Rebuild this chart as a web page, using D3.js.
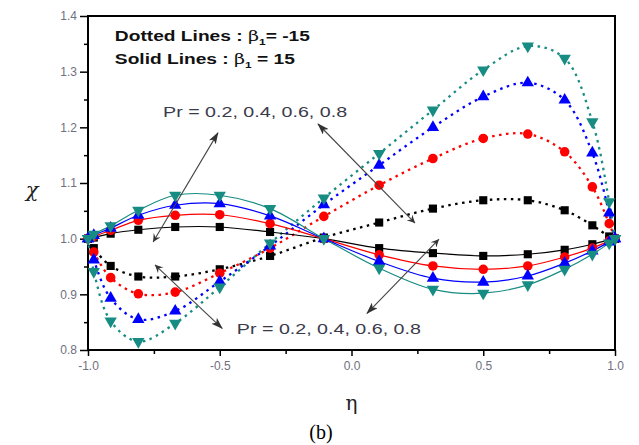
<!DOCTYPE html>
<html>
<head>
<meta charset="utf-8">
<script src="https://cdn.jsdelivr.net/npm/d3@7"></script>
<style>
  body { margin: 0; background: #fff; }
  svg { display: block; }
</style>
</head>
<body>
<svg id="chart"></svg>
<script>
// Chi profiles vs eta, dotted = beta1 -15, solid = beta1 15

const etaValues = [-1, -0.978, -0.914, -0.809, -0.669, -0.5, -0.309, -0.105,
  0.105, 0.309, 0.5, 0.669, 0.809, 0.914, 0.978, 1];

const prLabels = ["0.2", "0.4", "0.6", "0.8"];

const solidChi = [
  [1.000, 1.002, 1.009, 1.016, 1.021, 1.021, 1.012, 1.000, 0.983, 0.974, 0.969, 0.972, 0.980, 0.990, 0.998, 1.000],
  [1.000, 1.004, 1.015, 1.033, 1.042, 1.043, 1.027, 1.000, 0.971, 0.951, 0.945, 0.951, 0.967, 0.983, 0.996, 1.000],
  [1.000, 1.006, 1.019, 1.042, 1.060, 1.063, 1.041, 1.000, 0.959, 0.929, 0.922, 0.933, 0.956, 0.978, 0.994, 1.000],
  [1.000, 1.008, 1.023, 1.051, 1.078, 1.078, 1.054, 1.000, 0.947, 0.909, 0.902, 0.917, 0.945, 0.972, 0.992, 1.000]
];

const dottedChi = [
  [1.000, 0.983, 0.951, 0.932, 0.932, 0.945, 0.969, 1.002, 1.029, 1.054, 1.069, 1.069, 1.051, 1.024, 1.004, 1.000],
  [1.000, 0.976, 0.930, 0.901, 0.904, 0.938, 0.983, 1.040, 1.096, 1.144, 1.180, 1.188, 1.156, 1.093, 1.027, 1.000],
  [1.000, 0.962, 0.893, 0.855, 0.870, 0.923, 0.987, 1.061, 1.132, 1.200, 1.255, 1.280, 1.249, 1.154, 1.046, 1.000],
  [1.000, 0.941, 0.852, 0.815, 0.848, 0.913, 0.992, 1.073, 1.153, 1.231, 1.303, 1.346, 1.324, 1.210, 1.066, 1.000]
];

const xTicks = [-1.0, -0.5, 0.0, 0.5, 1.0];
const yTicks = [0.8, 0.9, 1.0, 1.1, 1.2, 1.3, 1.4];

// arrows in data units: [eta tail, chi tail, eta head, chi head]
const arrows = [
  [-0.753, 0.994, -0.507, 1.190],
  [0.241, 1.028, -0.127, 1.206],
  [-0.746, 0.953, -0.491, 0.839],
  [0.332, 0.999, 0.059, 0.866]
];

const colors = ["#000000", "#ff0000", "#0000ff", "#178c83"];
const shapes = [d3.symbolSquare, d3.symbolCircle, d3.symbolTriangle, d3.symbolTriangle];

const width = 639, height = 445;
const margins = {top: 16, bottom: 95, left: 88, right: 24};

const svg = d3.select('#chart')
  .attr("width", width)
  .attr("height", height);

svg.append("rect").attr("width", width).attr("height", height).attr("fill", "#fff");

const xScale = d3.scaleLinear().domain([-1, 1]).range([margins.left, width - margins.right]);
const yScale = d3.scaleLinear().domain([0.8, 1.4]).range([height - margins.bottom, margins.top]);

// minor ticks
svg.append('g')
  .attr("transform", `translate(0,${height - margins.bottom})`)
  .call(d3.axisBottom(xScale).tickValues([-0.75, -0.25, 0.25, 0.75]).tickFormat("").tickSize(4))
  .call(g => g.select(".domain").remove());
svg.append('g')
  .attr("transform", `translate(${margins.left},0)`)
  .call(d3.axisLeft(yScale).tickValues([0.85, 0.95, 1.05, 1.15, 1.25, 1.35]).tickFormat("").tickSize(4))
  .call(g => g.select(".domain").remove());

// major ticks
const fmt = d => d.toFixed(1);
svg.append('g')
  .attr("class", "xAxis")
  .attr("transform", `translate(0,${height - margins.bottom})`)
  .call(d3.axisBottom(xScale).tickValues(xTicks).tickFormat(fmt).tickSize(6).tickPadding(5));
svg.append('g')
  .attr("class", "yAxis")
  .attr("transform", `translate(${margins.left},0)`)
  .call(d3.axisLeft(yScale).tickValues(yTicks).tickFormat(fmt).tickSize(8).tickPadding(3));

svg.selectAll('.xAxis .domain, .yAxis .domain').remove();
svg.selectAll('.tick line').attr("stroke", "#000").attr("stroke-width", 1.5);
svg.selectAll('.xAxis text, .yAxis text')
  .attr("fill", "#70707e")
  .attr("font-family", "Liberation Sans, Arial, sans-serif")
  .attr("font-size", 12);

// frame
svg.append("rect")
  .attr("x", xScale(-1)).attr("y", yScale(1.4))
  .attr("width", xScale(1) - xScale(-1))
  .attr("height", yScale(0.8) - yScale(1.4))
  .attr("fill", "none").attr("stroke", "#000").attr("stroke-width", 2);

// lines
const line = d3.line()
  .x((d, i) => xScale(etaValues[i]))
  .y(d => yScale(d))
  .curve(d3.curveCatmullRom.alpha(0.5));

dottedChi.forEach((s, k) => {
  svg.append("path")
    .attr("d", line(s))
    .attr("fill", "none")
    .attr("stroke", colors[k])
    .attr("stroke-width", 2.3)
    .attr("stroke-dasharray", "2.5,4.5");
});
solidChi.forEach((s, k) => {
  svg.append("path")
    .attr("d", line(s))
    .attr("fill", "none")
    .attr("stroke", colors[k])
    .attr("stroke-width", 1.2);
});

// markers
function drawMarkers(series) {
  series.forEach((s, k) => {
    svg.append('g').selectAll("path")
      .data(s)
      .join("path")
      .attr("d", d3.symbol().type(shapes[k]).size(k === 1 ? 72 : 66))
      .attr("transform", (d, i) =>
        `translate(${xScale(etaValues[i])},${yScale(d)})` + (k === 3 ? " rotate(180)" : ""))
      .attr("fill", colors[k]);
  });
}
drawMarkers(dottedChi);
drawMarkers(solidChi);

// arrows
const defs = svg.append("defs");
defs.append("marker")
  .attr("id", "head")
  .attr("viewBox", "0 0 12 8")
  .attr("refX", 11).attr("refY", 4)
  .attr("markerWidth", 12).attr("markerHeight", 8)
  .attr("markerUnits", "userSpaceOnUse")
  .attr("orient", "auto")
  .append("path")
  .attr("d", "M0,0 L12,4 L0,8 L3,4 Z")
  .attr("fill", "#333");
defs.append("marker")
  .attr("id", "tail")
  .attr("viewBox", "0 0 10 8")
  .attr("refX", 1).attr("refY", 4)
  .attr("markerWidth", 10).attr("markerHeight", 8)
  .attr("markerUnits", "userSpaceOnUse")
  .attr("orient", "auto")
  .append("path")
  .attr("d", "M9,0 L1,4 L9,8 L6,4 Z")
  .attr("fill", "#333");

svg.append('g').selectAll("line")
  .data(arrows)
  .join("line")
  .attr("x1", d => xScale(d[0])).attr("y1", d => yScale(d[1]))
  .attr("x2", d => xScale(d[2])).attr("y2", d => yScale(d[3]))
  .attr("stroke", "#444")
  .attr("stroke-width", 1.1)
  .attr("marker-start", "url(#tail)")
  .attr("marker-end", "url(#head)");

// annotation texts (the source figure is stretched horizontally)
const prText = "Pr = " + prLabels.join(", ");
[[-0.715, 1.219], [-0.435, 0.828]].forEach(p => {
  svg.append("text")
    .attr("x", xScale(p[0])).attr("y", yScale(p[1]))
    .attr("font-family", "Liberation Sans, Arial, sans-serif")
    .attr("font-size", 15).attr("fill", "#3a3a4a")
    .attr("textLength", 184).attr("lengthAdjust", "spacingAndGlyphs")
    .text(prText);
});

// legend notes
function betaNote(chi, prefix, value, len) {
  const t = svg.append("text")
    .attr("x", xScale(-0.898)).attr("y", yScale(chi))
    .attr("font-family", "Liberation Sans, Arial, sans-serif")
    .attr("font-size", 14.5).attr("font-weight", "bold").attr("fill", "#111")
    .attr("textLength", len).attr("lengthAdjust", "spacingAndGlyphs");
  t.append("tspan").text(prefix + " : ");
  t.append("tspan").attr("font-weight", "normal").attr("font-family", "DejaVu Serif, serif").text("β");
  t.append("tspan").attr("font-size", 9).attr("dy", 4).text("1");
  t.append("tspan").attr("dy", -4).text(value);
}
betaNote(1.355, "Dotted Lines", "= -15", 195);
betaNote(1.313, "Solid Lines", " = 15", 180);

// axis titles
svg.append("text")
  .attr("x", 32).attr("y", yScale(1.075))
  .attr("text-anchor", "middle")
  .attr("font-family", "DejaVu Serif, serif")
  .attr("font-style", "italic")
  .attr("font-size", 21).attr("fill", "#222")
  .text("χ");
svg.append("text")
  .attr("x", xScale(0)).attr("y", 410)
  .attr("text-anchor", "middle")
  .attr("font-family", "DejaVu Serif, serif")
  .attr("font-size", 20).attr("fill", "#222")
  .text("η");
svg.append("text")
  .attr("x", 321).attr("y", 439)
  .attr("text-anchor", "middle")
  .attr("font-family", "Liberation Serif, Times New Roman, serif")
  .attr("font-size", 20).attr("fill", "#000")
  .text("(b)");
</script>
</body>
</html>
